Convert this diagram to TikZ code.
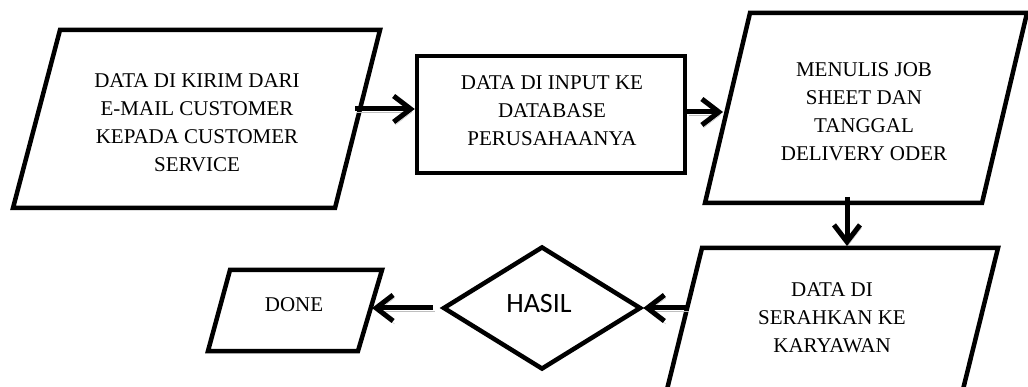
\documentclass[tikz,border=0pt]{standalone}
\usepackage{fontspec}
\setmainfont{Liberation Serif}
\newfontfamily\hasilfont{Carlito}
\usetikzlibrary{arrows.meta,shapes.geometric}
\begin{document}
\begin{tikzpicture}[x=1pt,y=-1pt,
  shapeline/.style={line width=4.5pt, line join=miter},
  flow/.style={line width=5pt, -{Straight Barb[length=17pt,width=26pt]},
    preaction={draw=gray!50, transform canvas={shift={(1.5pt,-3pt)}}}},
  txt/.style={align=center, font=\fontsize{21}{28}\selectfont, inner sep=0pt}]
\useasboundingbox (0,0) rectangle (1028,387);

% shapes
\draw[shapeline] (60,30) -- (380,30) -- (335,208) -- (13,208) -- cycle;
\node[txt] (t1) at (197,123) {DATA DI KIRIM DARI\\E-MAIL CUSTOMER\\KEPADA CUSTOMER\\SERVICE};

\node[draw, shapeline, minimum width=268pt, minimum height=117pt, inner sep=0pt] (r) at (551,114.5) {};
\node[txt] (rt) at (552,110.5) {DATA DI INPUT KE\\DATABASE\\PERUSAHAANYA};

\draw[shapeline] (750,13) -- (1027,13) -- (982,203) -- (705,203) -- cycle;
\node[txt] (t2) at (864,111.5) {MENULIS JOB\\SHEET DAN\\TANGGAL\\DELIVERY ODER};

\draw[shapeline] (702,248) -- (998,248) -- (963,389.5) -- (667,389.5) -- cycle;
\node[txt] (t3) at (832,318) {DATA DI\\SERAHKAN KE\\KARYAWAN};

\node[diamond, draw, shapeline, minimum width=198pt, minimum height=123pt, inner sep=0pt] (d) at (542,308) {};
\node[inner sep=0pt, font=\hasilfont\fontsize{28}{32}\selectfont] (h) at (539,304) {HASIL};

\draw[shapeline] (230,270) -- (382,270) -- (358,351) -- (208,351) -- cycle;
\node[txt] (dn) at (294,305) {DONE};

% connectors
\coordinate (a1s) at (355,109);
\draw[flow] (a1s) -- (a1s -| r.west);
\coordinate (a2e) at (723,112);
\draw[flow] (a2e -| r.east) -- (a2e);
\coordinate (a3s) at (847,197);
\coordinate (a3e) at (847,246);
\draw[flow] (a3s) -- (a3e);
\coordinate (a4s) at (687,308);
\draw[flow] (a4s) -- (d.east);
\coordinate (a5s) at (433,308);
\coordinate (a5e) at (372,308);
\draw[flow] (a5s) -- (a5e);
\end{tikzpicture}
\end{document}
